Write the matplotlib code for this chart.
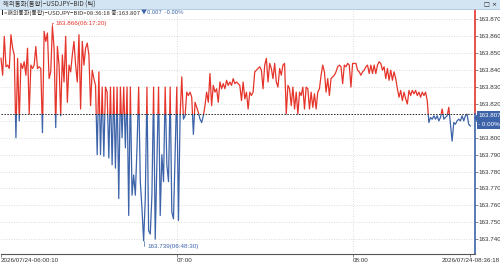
import numpy as np
import matplotlib.pyplot as plt
from matplotlib.patches import Rectangle

# 1. DATA  (USDJPY BID ticks, 06:00:10 -> 08:36:18)
bid = [
    # 06:00 - 06:40
    163.847, 163.837, 163.860, 163.842, 163.843, 163.841, 163.861, 163.853, 163.849, 163.800,
    163.847, 163.810, 163.844, 163.841, 163.845, 163.837, 163.853, 163.814, 163.843, 163.841,
    163.843, 163.854, 163.841, 163.842, 163.841, 163.803, 163.863, 163.857, 163.862, 163.835,
    163.839, 163.866, 163.853, 163.806, 163.854, 163.843, 163.813, 163.849, 163.833, 163.860,
    163.821, 163.843, 163.839, 163.849, 163.857, 163.843, 163.833, 163.861, 163.817, 163.857,
    163.843, 163.853, 163.856, 163.849, 163.819, 163.840, 163.835, 163.831, 163.790, 163.839,
    163.790, 163.830, 163.789, 163.830, 163.827, 163.788, 163.830, 163.784, 163.830, 163.782,
    163.830, 163.764,
    # 06:40 - 07:20
    163.830, 163.800, 163.830, 163.794, 163.830, 163.754, 163.830, 163.766, 163.778, 163.766,
    163.794, 163.830, 163.774, 163.758, 163.739, 163.764, 163.830, 163.745, 163.743, 163.766,
    163.830, 163.740, 163.786, 163.830, 163.754, 163.790, 163.774, 163.830, 163.784, 163.774,
    163.830, 163.756, 163.752, 163.790, 163.830, 163.751, 163.813, 163.836, 163.811, 163.813,
    163.827, 163.825, 163.827, 163.824, 163.802, 163.821, 163.818, 163.815, 163.811, 163.809,
    163.813, 163.819, 163.827, 163.821, 163.838, 163.819, 163.831, 163.827, 163.829, 163.821,
    163.833, 163.829, 163.832, 163.829, 163.834, 163.831, 163.833, 163.831, 163.835, 163.832,
    163.833,
    # 07:20 - 08:00
    163.832, 163.831, 163.822, 163.833, 163.823, 163.827, 163.817, 163.827, 163.825, 163.827,
    163.839, 163.840, 163.841, 163.842, 163.840, 163.829, 163.843, 163.847, 163.833, 163.844,
    163.841, 163.835, 163.844, 163.833, 163.830, 163.841, 163.837, 163.843, 163.844, 163.814,
    163.831, 163.829, 163.819, 163.830, 163.817, 163.827, 163.814, 163.827, 163.825, 163.830,
    163.817, 163.830, 163.829, 163.817, 163.827, 163.818, 163.826, 163.817, 163.827, 163.829,
    163.837, 163.843, 163.839, 163.827, 163.835, 163.825, 163.835, 163.836, 163.837, 163.839,
    163.842, 163.843, 163.842, 163.832, 163.843, 163.842, 163.844, 163.843, 163.830, 163.844,
    163.844,
    # 08:00 - 08:36
    163.844, 163.840, 163.839, 163.837, 163.839, 163.840, 163.842, 163.843, 163.838, 163.843,
    163.838, 163.843, 163.838, 163.843, 163.845, 163.844, 163.840, 163.842, 163.835, 163.841,
    163.834, 163.840, 163.834, 163.839, 163.835, 163.829, 163.824, 163.828, 163.822, 163.827,
    163.823, 163.820, 163.828, 163.825, 163.828, 163.826, 163.828, 163.825, 163.827, 163.824,
    163.827, 163.825, 163.827, 163.822, 163.809, 163.812, 163.811, 163.813, 163.811, 163.813,
    163.810, 163.812, 163.817, 163.811, 163.812, 163.813, 163.818, 163.808, 163.798, 163.809,
    163.808, 163.810, 163.811, 163.810, 163.813, 163.810, 163.813, 163.814, 163.808, 163.807,
]
prev_close = 163.814
hi_time, lo_time = '06:17:20', '06:48:30'

xtick_idx = [0, 106, 212, len(bid) - 1]
xtick_lbl = ['2026/07/24-06:00:10', '07:00', '08:00', '2026/07/24-08:36:18']
ytick_vals = np.round(np.arange(163.740, 163.8705, 0.010), 3)

title = '해외통화(통합)−USDJPY−BID (틱)'
info = '<해외통화(통합)−USDJPY−BID>08:36:18 종:163.807 '
change = '▼0.007  -0.00%'

RED = '#e5352b'
BLUE = '#3d63a9'
KR = ['Noto Sans CJK KR', 'DejaVu Sans']
NUM = ['Liberation Sans', 'DejaVu Sans']
FS = 4.5

# 2. FIGURE SETUP
W, H = 500, 264
fig = plt.figure(figsize=(W / 100, H / 100), dpi=100)
ax = fig.add_axes([1 / W, 1 - 254 / H, 473.5 / W, 245 / H])

x = np.arange(len(bid))
y = np.array(bid)
ytop, ybot = 163.8762, 163.7312
ax.set_xlim(0, len(bid) + 1.5)
ax.set_ylim(ybot, ytop)

# price line, red above previous close, blue below
for col, lo, hi in [(RED, prev_close, ytop), (BLUE, ybot, prev_close)]:
    ln, = ax.plot(x, y, color=col, lw=0.9)
    clip = Rectangle((-10, lo), len(bid) + 20, hi - lo, transform=ax.transData)
    ln.set_clip_path(clip)

ax.axhline(prev_close, color='#222222', lw=0.7, ls=(0, (1.5, 1.5)))

# grid
for v in ytick_vals:
    ax.axhline(v, color='#d0d0d0', lw=0.6, ls=(0, (1, 2)), zorder=0)
for i in xtick_idx[1:3]:
    ax.axvline(i, color='#d0d0d0', lw=0.6, ls=(0, (1, 2)), zorder=0)

# right axis, coloured at previous close
ytr = ax.get_yaxis_transform()
ax.plot([1, 1], [prev_close, ytop + 0.004], color=RED, lw=1.2, transform=ytr, clip_on=False)
ax.plot([1, 1], [ybot, prev_close], color=BLUE, lw=1.2, transform=ytr, clip_on=False)

for s in ['top', 'left', 'right']:
    ax.spines[s].set_visible(False)
ax.spines['bottom'].set_color('#555555')
ax.spines['bottom'].set_linewidth(0.8)

ax.yaxis.tick_right()
ax.set_yticks(ytick_vals)
# the 163.810 label sits under the current-price box
ax.set_yticklabels(['' if abs(v - 163.810) < 1e-6 else f'{v:.3f}' for v in ytick_vals],
                   family=NUM, fontsize=FS)
ax.tick_params(axis='y', length=2, width=0.5, pad=1, colors='#555555', labelcolor='#333333')

ax.set_xticks(xtick_idx)
ax.set_xticklabels(xtick_lbl, family=NUM, fontsize=FS)
ax.tick_params(axis='x', length=2, width=0.5, pad=1, colors='#555555', labelcolor='#333333')
for lb, ha in zip(ax.get_xticklabels(), ['left', 'left', 'left', 'center']):
    lb.set_ha(ha)

# high / low markers
ihi, ilo = int(np.argmax(y)), int(np.argmin(y))
for i, t, col, dy in [(ihi, hi_time, RED, 2), (ilo, lo_time, BLUE, -4)]:
    ax.annotate(f'{y[i]:.3f}({t})', xy=(i, y[i]), xytext=(2.5, dy),
                textcoords='offset points', fontsize=FS, family=NUM, color=col,
                va='center', arrowprops=dict(arrowstyle='-', color=col, lw=0.5,
                                             shrinkA=0, shrinkB=0,
                                             connectionstyle='angle,angleA=0,angleB=90'))

# current price box on the right
box_y = 1 - 118 / H
fig.patches.append(Rectangle((477 / W, 1 - 129 / H), 23 / W, 18 / H, fc=BLUE, ec='none',
                             transform=fig.transFigure))
fig.patches.append(plt.Polygon([[474 / W, box_y], [477.5 / W, box_y + 4 / H],
                                [477.5 / W, box_y - 4 / H]], closed=True,
                               fc=BLUE, ec='none', transform=fig.transFigure))
fig.text(478.5 / W, 1 - 115.5 / H, f'{bid[-1]:.3f}', fontsize=FS, family=NUM,
         color='white', va='center')
fig.text(478.5 / W, 1 - 124.5 / H, '- 0.00%', fontsize=FS, family=NUM,
         color='white', va='center')

# 3. HEADER
fig.patches.append(Rectangle((0, 1 - 8.5 / H), 1, 8.5 / H, fc='#d3e4f3', ec='none',
                             transform=fig.transFigure))
fig.add_artist(plt.Line2D([0, 1], [1 - 8.5 / H] * 2, color='#a7c3de', lw=0.6))
fig.text(3 / W, 1 - 4.3 / H, title, fontsize=4.6, family=KR, color='#333333', va='center')
fig.text(497 / W, 1 - 4.3 / H, '□ ×', fontsize=4.5, family=['DejaVu Sans'], color='#222222',
         va='center', ha='right')

fig.patches.append(Rectangle((1.5 / W, 1 - 15 / H), 1.6 / W, 5 / H, fc='#222222', ec='none',
                             transform=fig.transFigure))
t1 = fig.text(4 / W, 1 - 12.5 / H, info, fontsize=4.3, family=KR, color='#333333', va='center')
fig.canvas.draw()
bb = t1.get_window_extent()
fig.text(bb.x1 / W, 1 - 12.5 / H, change, fontsize=4.3, family=KR + ['DejaVu Sans'],
         color=BLUE, va='center')

fig.savefig('out.png', dpi=100)
